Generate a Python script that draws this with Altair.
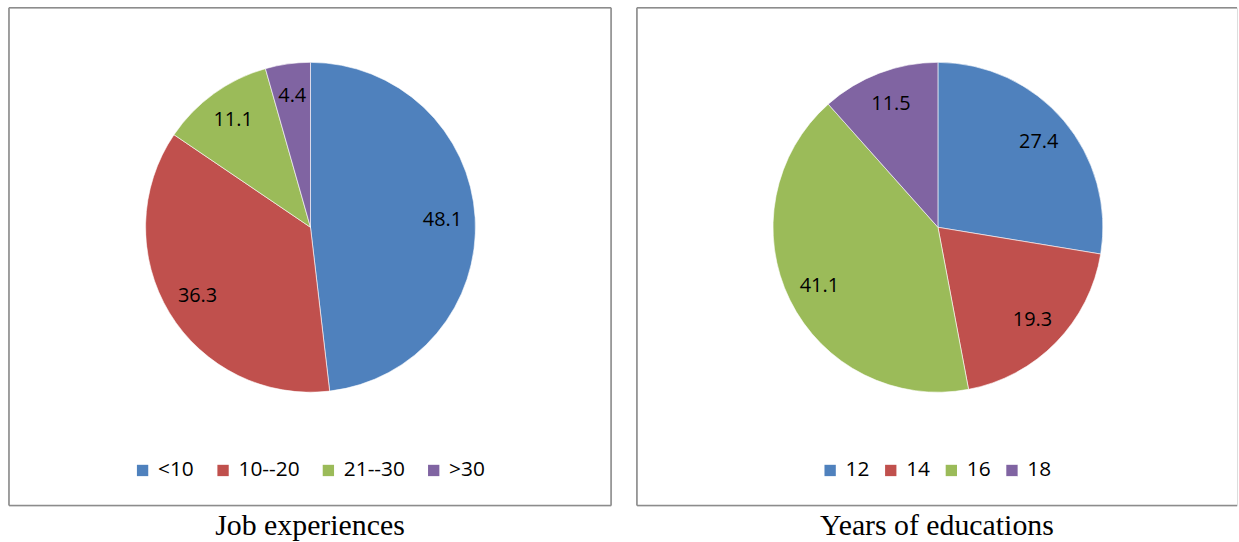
import altair as alt
import pandas as pd

job_labels = ["<10", "10--20", "21--30", ">30"]
job_values = [48.1, 36.3, 11.1, 4.4]
edu_labels = ["12", "14", "16", "18"]
edu_values = [27.4, 19.3, 41.1, 11.5]
colors = ["#4F81BD", "#C0504D", "#9BBB59", "#8064A2"]

LABEL_FONT = "Open Sans"
TITLE_FONT = "Liberation Serif"
H = 501
FRAME = "#8c8c8c"


def panel(labels, values, title, width, legend_x, col_pad, cx, right_edge):
    df = pd.DataFrame({"cat": labels, "val": values, "order": list(range(len(labels)))})
    base = alt.Chart(df).encode(
        theta=alt.Theta("val:Q", stack=True),
        order=alt.Order("order:Q"),
    )
    arcs = base.mark_arc(outerRadius=166, stroke="white", strokeWidth=0.6).encode(
        x=alt.value(cx),
        y=alt.value(221),
        color=alt.Color(
            "cat:N",
            sort=labels,
            scale=alt.Scale(domain=labels, range=colors),
            legend=alt.Legend(
                title=None,
                orient="none",
                direction="horizontal",
                legendX=legend_x,
                legendY=455,
                symbolType="square",
                symbolSize=130,
                symbolStrokeWidth=0,
                labelFont=LABEL_FONT,
                labelFontSize=21,
                labelColor="#000000",
                columnPadding=col_pad,
                labelOffset=5,
            ),
        ),
    )
    texts = base.mark_text(radius=133, font=LABEL_FONT, fontSize=20, color="#000000").encode(
        x=alt.value(cx),
        y=alt.value(221),
        text=alt.Text("val:Q", format=".1f"),
    )
    one = pd.DataFrame({"k": [0]})
    edges = [
        alt.Chart(one).mark_rule(stroke=FRAME, strokeWidth=1.6).encode(
            x=alt.value(0), x2=alt.value(width), y=alt.value(0)
        ),
        alt.Chart(one).mark_rule(stroke=FRAME, strokeWidth=1.6).encode(
            x=alt.value(0), x2=alt.value(width), y=alt.value(H)
        ),
        alt.Chart(one).mark_rule(stroke=FRAME, strokeWidth=1.6).encode(
            x=alt.value(0), y=alt.value(0), y2=alt.value(H)
        ),
    ]
    if right_edge:
        edges.append(
            alt.Chart(one).mark_rule(stroke=FRAME, strokeWidth=1.6).encode(
                x=alt.value(width), y=alt.value(0), y2=alt.value(H)
            )
        )
    return alt.layer(arcs, texts, *edges).properties(
        width=width,
        height=H,
        title=alt.TitleParams(
            text=title,
            orient="bottom",
            font=TITLE_FONT,
            fontSize=30,
            fontWeight="normal",
            color="#000000",
            offset=5,
            anchor="middle",
        ),
    )


left = panel(job_labels, job_values, "Job experiences", 606, 124, 18, 303.5, True)
right = panel(edu_labels, edu_values, "Years of educations", 604, 184, 10, 303, False)

chart = (
    alt.hconcat(left, right, spacing=22)
    .resolve_scale(color="independent", theta="independent")
    .properties(padding={"left": 7, "top": 4, "right": 0, "bottom": 0})
    .configure_view(stroke=None)
    .configure(background="white")
)

chart.save("out.html", embed_options={"renderer": "svg", "actions": False})
